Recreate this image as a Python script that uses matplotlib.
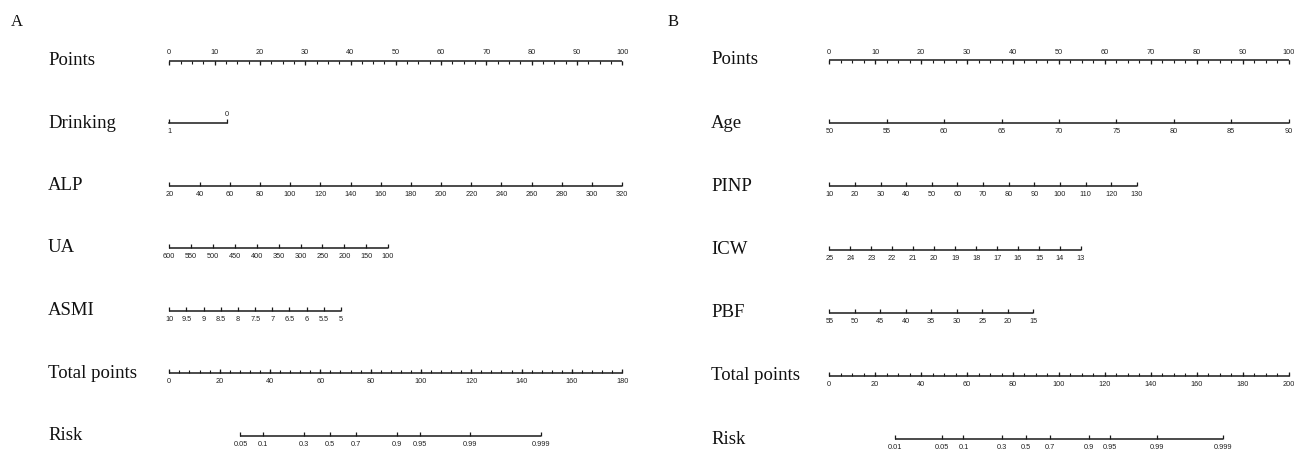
import numpy as np
import matplotlib
matplotlib.use('Agg')
import matplotlib.pyplot as plt
from matplotlib.transforms import blended_transform_factory

# ---- Panel A data ----
a_rows = ['Points', 'Drinking', 'ALP', 'UA', 'ASMI', 'Total points', 'Risk']
a_points = [0, 10, 20, 30, 40, 50, 60, 70, 80, 90, 100]
drinking_labels = ['1', '0']
drinking_pts = [0, 12.7]
alp_ticks = [20, 40, 60, 80, 100, 120, 140, 160, 180, 200, 220, 240, 260, 280, 300, 320]
alp_max = 100
ua_ticks = [600, 550, 500, 450, 400, 350, 300, 250, 200, 150, 100]
ua_max = 48.3
asmi_ticks = [10, 9.5, 9, 8.5, 8, 7.5, 7, 6.5, 6, 5.5, 5]
asmi_max = 37.9
a_total = [0, 20, 40, 60, 80, 100, 120, 140, 160, 180]
a_risk = [0.05, 0.1, 0.3, 0.5, 0.7, 0.9, 0.95, 0.99, 0.999]
a_risk_mid = 63.9      # total points where risk = 0.5
a_risk_slope = 12.11   # total points per logit unit

# ---- Panel B data ----
b_rows = ['Points', 'Age', 'PINP', 'ICW', 'PBF', 'Total points', 'Risk']
b_points = [0, 10, 20, 30, 40, 50, 60, 70, 80, 90, 100]
age_ticks = [50, 55, 60, 65, 70, 75, 80, 85, 90]
age_max = 100
pinp_ticks = [10, 20, 30, 40, 50, 60, 70, 80, 90, 100, 110, 120, 130]
pinp_max = 67.0
icw_ticks = [25, 24, 23, 22, 21, 20, 19, 18, 17, 16, 15, 14, 13]
icw_max = 54.8
pbf_ticks = [55, 50, 45, 40, 35, 30, 25, 20, 15]
pbf_max = 44.4
b_total = [0, 20, 40, 60, 80, 100, 120, 140, 160, 180, 200]
b_risk = [0.01, 0.05, 0.1, 0.3, 0.5, 0.7, 0.9, 0.95, 0.99, 0.999]
b_risk_mid = 85.7
b_risk_slope = 12.41

W, H = 1294, 451
fig = plt.figure(figsize=(W / 100, H / 100), dpi=100)

LINE = '#1a1a1a'
TICKFONT = dict(family='Liberation Sans', size=5.3, color='#222222')
PX = 0.72  # points per pixel at 100 dpi


def fmt(v):
    return ('%g' % v)


def scale(ax, row, pos, labels, side='below', tick=2, minor=None):
    pos = np.asarray(pos, dtype=float)
    ax.plot([pos.min(), pos.max()], [row, row], color=LINE, lw=1.1,
            solid_capstyle='butt', clip_on=False)
    ax.plot(pos, [row] * len(pos), ls='none', marker=tick, ms=2.6,
            mew=0.9, color=LINE, clip_on=False)
    if minor is not None:
        ax.plot(minor, [row] * len(minor), ls='none', marker=tick, ms=1.9,
                mew=0.8, color=LINE, clip_on=False)
    dy = 8 * PX if side == 'above' else -8.5 * PX
    for x, lab in zip(pos, labels):
        ax.annotate(lab, xy=(x, row), xytext=(0, dy), textcoords='offset points',
                    ha='center', va='center', **TICKFONT)


def linmap(vals, span):
    vals = np.asarray(vals, dtype=float)
    return (vals - vals[0]) / (vals[-1] - vals[0]) * span


def panel(left_px, right_px, top_px, bottom_px, label_px, letter, letter_px,
          rows, pts, vars_, total, tminor, risk, rmid, rslope):
    ax = fig.add_axes([left_px / W, 1 - bottom_px / H,
                       (right_px - left_px) / W, (bottom_px - top_px) / H])
    ax.set_xlim(0, 100)
    ax.set_ylim(6, 0)
    ax.axis('off')
    tr = blended_transform_factory(fig.transFigure, ax.transData)
    for i, name in enumerate(rows):
        ax.annotate(name, xy=(label_px / W, i), xycoords=tr, xytext=(0, -4.3 * PX),
                    textcoords='offset points', ha='left', va='baseline',
                    family='Liberation Serif', size=13.5, color='#111111')
    fig.text(letter_px / W, 1 - 26 / H, letter, family='Liberation Serif',
             size=12, ha='left', va='baseline', color='#111111')

    # Points row
    scale(ax, 0, pts, [fmt(p) for p in pts], side='above', tick=3,
          minor=np.arange(0, 100.1, 2.5))
    # variable rows
    for i, (kind, a, b) in enumerate(vars_, start=1):
        if kind == 'cat':
            pos, labs = b, a
            ax.plot([pos[0], pos[-1]], [i, i], color=LINE, lw=1.1, clip_on=False)
            ax.plot(pos, [i] * len(pos), ls='none', marker=2, ms=2.6, mew=0.9,
                    color=LINE, clip_on=False)
            ax.annotate(labs[0], xy=(pos[0], i), xytext=(0, -8.5 * PX),
                        textcoords='offset points', ha='center', va='center', **TICKFONT)
            ax.annotate(labs[1], xy=(pos[1], i), xytext=(0, 9 * PX),
                        textcoords='offset points', ha='center', va='center', **TICKFONT)
        else:
            scale(ax, i, linmap(a, b), [fmt(v) for v in a])
    # Total points row
    tmax = total[-1]
    tpos = np.asarray(total, dtype=float) / tmax * 100
    scale(ax, 5, tpos, [fmt(v) for v in total],
          minor=np.arange(0, tmax + 0.1, tminor) / tmax * 100)
    # Risk row
    r = np.asarray(risk)
    tp = rmid + rslope * np.log(r / (1 - r))
    scale(ax, 6, tp / tmax * 100, [fmt(v) for v in risk])
    return ax


panel(169.3, 622.3, 60.7, 435.7, 48, 'A', 11, a_rows, a_points,
      [('cat', drinking_labels, drinking_pts),
       ('num', alp_ticks, alp_max),
       ('num', ua_ticks, ua_max),
       ('num', asmi_ticks, asmi_max)],
      a_total, 4, a_risk, a_risk_mid, a_risk_slope)

panel(829.3, 1288.5, 60.0, 439.3, 711, 'B', 668, b_rows, b_points,
      [('num', age_ticks, age_max),
       ('num', pinp_ticks, pinp_max),
       ('num', icw_ticks, icw_max),
       ('num', pbf_ticks, pbf_max)],
      b_total, 5, b_risk, b_risk_mid, b_risk_slope)

fig.savefig('out.png', dpi=100, facecolor='white')
